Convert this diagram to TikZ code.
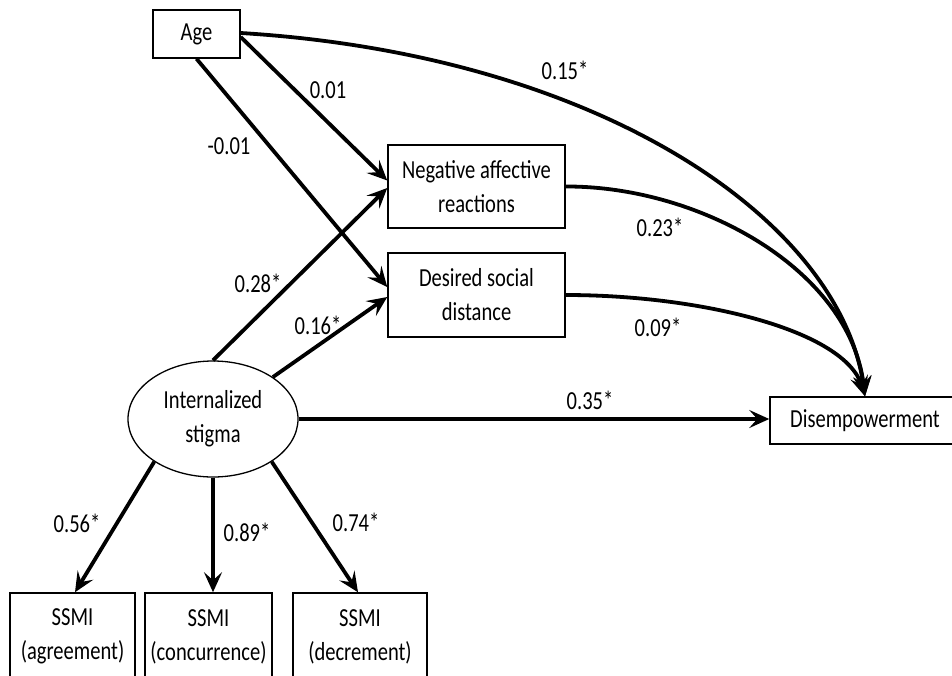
\documentclass[tikz,border=0pt]{standalone}
\usepackage{fontspec}
\setmainfont{Carlito}[FakeStretch=0.79]
\usetikzlibrary{arrows.meta,shapes.geometric}
\begin{document}
\begin{tikzpicture}[x=1pt,y=-1pt,
  txt/.style={font=\fontsize{26}{34}\selectfont},
  box/.style={txt,draw,line width=1.5pt,inner sep=0pt,align=center,rectangle},
  lab/.style={txt,inner sep=0pt},
  arr/.style={line width=3.8pt,-{Stealth[length=20pt,width=18pt,inset=8pt]}},
]
\fill[white] (0,0) rectangle (952,675);
\useasboundingbox (0,0) rectangle (952,675);

\node[box,minimum width=87pt,minimum height=48pt] (age) at (196.5,34) {Age};
\node[box,minimum width=177pt,minimum height=83pt] (nar) at (476.5,186.5) {Negative affective\\reactions};
\node[box,minimum width=177pt,minimum height=84pt] (dsd) at (476.5,295) {Desired social\\distance};
\node[txt,draw,ellipse,line width=1.3pt,minimum width=170pt,minimum height=116pt,inner sep=0pt,align=center] (ist) at (213,419) {Internalized\\stigma};
\node[box,minimum width=190pt,minimum height=47pt] (dis) at (865,420.5) {Disempowerment};
\node[box,minimum width=125pt,minimum height=87pt] (agr) at (72.5,636.5) {SSMI\\(agreement)};
\node[box,minimum width=127pt,minimum height=87pt] (con) at (208.5,636.5) {SSMI\\(concurrence)};
\node[box,minimum width=134pt,minimum height=87pt] (dec) at (360,636.5) {SSMI\\(decrement)};

\draw[arr] ([yshift=-3pt]age.east) -- ([yshift=6pt]nar.west);
\draw[arr] (age.south) -- ([yshift=8pt]dsd.west);
\draw[arr] (ist.north) -- ([yshift=-1.5pt]nar.west);
\draw[arr] (ist.35) -- ([yshift=-2pt]dsd.west);
\draw[arr] (ist.east) -- (ist.east -| dis.west);
\draw[arr] (ist.216) -- ([xshift=2.5pt]agr.north);
\draw[arr] (ist.south) -- (ist.south |- con.north);
\draw[arr] (ist.324) -- ([xshift=-2pt]dec.north);

\draw[arr] ([yshift=1pt]age.east) .. controls (600,55) and (840,220) .. (dis.north);
\draw[arr] (nar.east) .. controls (700,186) and (850,270) .. (dis.north);
\draw[arr] (dsd.east) .. controls (700,295) and (845,330) .. (dis.north);

\node[lab] (l1) at (328,90) {0.01};
\node[lab] (l2) at (229,146) {-0.01};
\node[lab] (l3) at (565,70) {0.15*};
\node[lab] (l4) at (660,227) {0.23*};
\node[lab] (l5) at (658,327) {0.09*};
\node[lab] (l6) at (258,283) {0.28*};
\node[lab] (l7) at (318,325) {0.16*};
\node[lab] (l8) at (590,400) {0.35*};
\node[lab] (l9) at (77,523) {0.56*};
\node[lab] (l10) at (247,532) {0.89*};
\node[lab] (l11) at (356,522) {0.74*};
\end{tikzpicture}
\end{document}
